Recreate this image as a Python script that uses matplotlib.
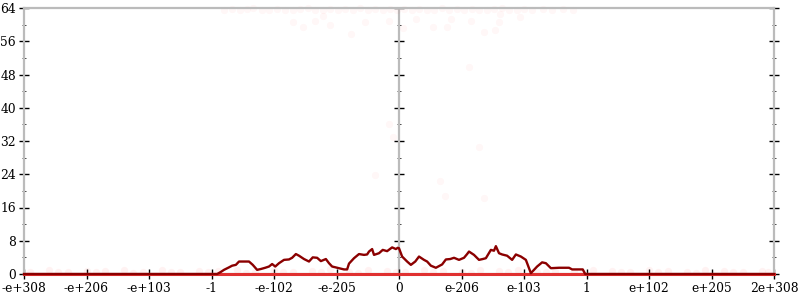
import numpy as np
import matplotlib
matplotlib.use('Agg')
import matplotlib.pyplot as plt
from matplotlib.ticker import MultipleLocator, FixedLocator, NullFormatter

# x is the transformed float position: -6 = -e+308, 0 = 0, 6 = 2e+308
xTickPos = [-6, -5, -4, -3, -2, -1, 0, 1, 2, 3, 4, 5, 6]
xTickLabels = ['-e+308', '-e+206', '-e+103', '-1', '-e-102', '-e-205', '0',
               'e-206', 'e-103', '1', 'e+102', 'e+205', '2e+308']

# smoothed count curve
lineX = [-6.0, -2.91, -2.85, -2.80, -2.72, -2.67, -2.61, -2.56, -2.40, -2.34,
         -2.27, -2.21, -2.14, -2.08, -2.03, -1.98, -1.92, -1.84, -1.76, -1.71,
         -1.65, -1.60, -1.52, -1.44, -1.38, -1.31, -1.25, -1.17, -1.12, -1.07,
         -0.88, -0.83, -0.80, -0.72, -0.64, -0.56, -0.51, -0.48, -0.43, -0.40,
         -0.32, -0.26, -0.19, -0.11, -0.05, -0.02, 0.0, 0.05, 0.13, 0.19,
         0.26, 0.32, 0.40, 0.45, 0.51, 0.59, 0.69, 0.75, 0.82, 0.88,
         0.96, 1.04, 1.09, 1.12, 1.20, 1.28, 1.34, 1.39, 1.47, 1.52,
         1.55, 1.60, 1.65, 1.73, 1.81, 1.87, 1.95, 2.03, 2.08, 2.11,
         2.16, 2.21, 2.29, 2.35, 2.43, 2.56, 2.72, 2.77, 2.94, 2.98, 6.0]
lineY = [0.0, 0.0, 0.5, 1.0, 1.6, 2.0, 2.2, 3.0, 3.0, 2.2,
         1.0, 1.2, 1.5, 1.8, 2.4, 1.8, 2.6, 3.4, 3.5, 3.9,
         4.8, 4.4, 3.6, 3.0, 4.0, 3.9, 3.1, 3.6, 2.6, 1.8,
         1.1, 1.1, 2.5, 3.8, 4.8, 4.6, 4.7, 5.4, 6.0, 4.6,
         5.0, 5.8, 5.5, 6.4, 6.0, 6.3, 6.2, 4.2, 3.0, 2.2,
         3.0, 4.2, 3.4, 3.0, 2.0, 1.5, 2.3, 3.5, 3.6, 3.9,
         3.4, 3.9, 4.8, 5.4, 4.6, 3.4, 3.6, 3.8, 5.8, 5.6,
         6.7, 5.0, 4.7, 4.4, 3.4, 4.7, 4.2, 3.4, 1.4, 0.2,
         1.0, 1.8, 2.8, 2.6, 1.4, 1.5, 1.5, 1.1, 1.1, 0.0, 0.0]

# faint sample points
topDotX = [-2.80, -2.68, -2.55, -2.44, -2.33, -2.20, -2.08, -1.95, -1.82, -1.70,
           -1.58, -1.46, -1.34, -1.22, -1.10, -0.98, -0.86, -0.74, -0.62, -0.50,
           -0.38, -0.26, -0.14, -0.04, 0.08, 0.20, 0.32, 0.44, 0.56, 0.68,
           0.80, 0.92, 1.04, 1.16, 1.28, 1.40, 1.52, 1.64, 1.76, 1.88,
           2.00, 2.12, 2.30, 2.45, 2.62, 2.78]
topDotY = [63.6, 63.8, 63.5, 63.7, 63.9, 63.6, 63.4, 63.8, 63.6, 63.5,
           63.7, 63.9, 63.5, 63.6, 63.8, 63.4, 63.7, 63.6, 63.9, 63.5,
           63.7, 63.6, 63.8, 63.5, 63.7, 63.4, 63.8, 63.6, 63.5, 63.9,
           63.6, 63.7, 63.5, 63.8, 63.6, 63.4, 63.7, 63.9, 63.5, 63.6,
           63.8, 63.5, 63.7, 63.6, 63.8, 63.5]
midDotX = [-1.70, -1.54, -1.34, -1.22, -1.10, -0.77, -0.54, -0.16, 0.06, 0.27,
           0.54, 0.77, 0.83, 1.15, 1.36, 1.54, 1.62, 1.60, 1.94, 1.12,
           -0.16, -0.10, 1.28, -0.38, 0.66, 0.74, 1.36]
midDotY = [60.6, 59.4, 60.9, 62.1, 59.9, 57.8, 60.6, 60.9, 59.2, 61.4,
           59.4, 59.4, 61.4, 60.9, 58.2, 58.7, 62.6, 60.6, 61.8, 49.8,
           36.1, 33.0, 30.6, 23.8, 22.4, 18.8, 18.3]
lowDotX = [-5.9, -5.6, -5.3, -5.0, -4.7, -4.4, -4.1, -3.8, -3.5, -3.2,
           -2.9, -2.6, -2.3, -2.0, -1.7, -1.4, -1.1, -0.8, -0.5, -0.2,
           0.1, 0.4, 0.7, 1.0, 1.3, 1.6, 1.9, 2.2, 2.5, 2.8,
           3.1, 3.4, 3.7, 4.0, 4.3, 4.6, 4.9, 5.2, 5.5, 5.8,
           -5.45, -4.85, -4.25, -3.65, -3.05, -2.45, -1.85, -1.25, -0.65, -0.05,
           0.55, 1.15, 1.75, 2.35, 2.95, 3.55, 4.15, 4.75, 5.35, 5.9]
lowDotY = [0.6, 0.9, 0.5, 0.8, 0.7, 1.0, 0.6, 0.9, 0.5, 0.8,
           0.7, 1.0, 0.6, 0.9, 0.5, 0.8, 1.1, 0.6, 0.9, 0.7,
           0.5, 1.0, 0.8, 0.6, 0.9, 0.7, 1.0, 0.5, 0.8, 0.6,
           0.9, 0.7, 0.5, 1.0, 0.8, 0.6, 0.9, 0.7, 0.5, 0.8,
           0.4, 0.5, 0.3, 0.4, 0.5, 0.3, 0.4, 0.5, 0.3, 0.4,
           0.5, 0.3, 0.4, 0.5, 0.3, 0.4, 0.5, 0.3, 0.4, 0.5]

plt.rcParams['font.family'] = 'DejaVu Serif'

fig = plt.figure( figsize = ( 8, 3 ), dpi = 100 )
ax = fig.add_axes( [ 24/800, 26/300, 750/800, 266/300 ] )

# gray axis line through zero
ax.axvline( 0, color = '#bbbbbb', lw = 1.6, zorder = 1 )

dotColor = '#ff3030'
ax.scatter( topDotX, topDotY, s = 28, color = dotColor, alpha = 0.035, lw = 0, clip_on = False, zorder = 2 )
ax.scatter( midDotX, midDotY, s = 28, color = dotColor, alpha = 0.035, lw = 0, zorder = 2 )
ax.scatter( lowDotX, lowDotY, s = 28, color = dotColor, alpha = 0.06, lw = 0, zorder = 2 )

ax.plot( [ xTickPos[0], xTickPos[-1] ], [ 0, 0 ], color = '#e03030', lw = 2.2, zorder = 3, clip_on = False )
ax.plot( lineX, lineY, color = '#8b0000', lw = 1.7, zorder = 4, clip_on = False )

ax.set_xlim( -6, 6 )
ax.set_ylim( 0, 64 )

ax.xaxis.set_major_locator( FixedLocator( xTickPos ) )
ax.set_xticklabels( xTickLabels )
ax.yaxis.set_major_locator( MultipleLocator( 8 ) )
ax.yaxis.set_minor_locator( MultipleLocator( 4 ) )

for side in [ 'left', 'right', 'top', 'bottom' ]:
    ax.spines[side].set_color( '#bbbbbb' )
    ax.spines[side].set_linewidth( 1.6 )

ax.tick_params( axis = 'both', which = 'major', direction = 'inout', length = 7.5, width = 1.0,
                color = 'black', labelsize = 8.8, pad = 2 )
ax.tick_params( axis = 'y', which = 'minor', direction = 'inout', length = 3.5, width = 0.7,
                color = '#444444' )
ax.tick_params( axis = 'y', which = 'both', right = True, labelright = False )
ax.tick_params( axis = 'x', which = 'both', top = False )

# ticks on the zero axis
mid = ax.secondary_yaxis( 0.5 )
for side in mid.spines:
    mid.spines[side].set_visible( False )
mid.yaxis.set_major_locator( MultipleLocator( 8 ) )
mid.yaxis.set_minor_locator( MultipleLocator( 4 ) )
mid.yaxis.set_major_formatter( NullFormatter() )
mid.tick_params( axis = 'y', which = 'major', direction = 'inout', length = 7.5, width = 1.0,
                 color = 'black', labelleft = False, labelright = False )
mid.tick_params( axis = 'y', which = 'minor', direction = 'inout', length = 3.5, width = 0.7,
                 color = '#444444' )

plt.savefig( 'out.png', dpi = 100 )
